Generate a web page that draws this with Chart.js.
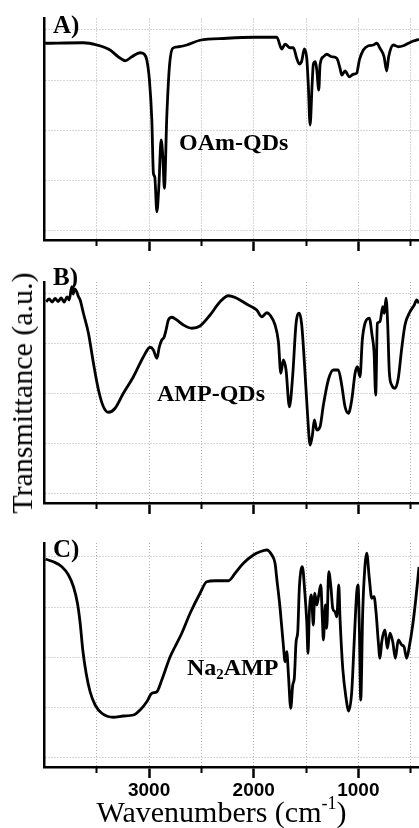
<!DOCTYPE html>
<html>
<head>
<meta charset="utf-8">
<script src="https://cdn.jsdelivr.net/npm/chart.js@4/dist/chart.umd.min.js"></script>
<style>
body { margin: 0; background: #fff; width: 419px; height: 828px; position: relative; overflow: hidden; }
canvas { position: absolute; left: 0; }
.txt { position: absolute; font-family: 'Liberation Serif', 'Times New Roman', serif; color: #000; white-space: nowrap; }
.bold { font-weight: bold; }
</style>
</head>
<body>
<canvas id="panelA" width="419" height="252" style="top:0px"></canvas>
<canvas id="panelB" width="419" height="253" style="top:262px"></canvas>
<canvas id="panelC" width="419" height="305" style="top:523px"></canvas>

<div class="txt bold" style="left:53px;top:12px;font-size:25px;line-height:25px">A)</div>
<div class="txt bold" style="left:53px;top:264px;font-size:25px;line-height:25px">B)</div>
<div class="txt bold" style="left:53px;top:536px;font-size:25px;line-height:25px">C)</div>

<div class="txt bold" style="left:179px;top:130px;font-size:24px;line-height:24px">OAm-QDs</div>
<div class="txt bold" style="left:157px;top:381px;font-size:24px;line-height:24px">AMP-QDs</div>
<div class="txt bold" style="left:187px;top:655px;font-size:24px;line-height:24px">Na<span style="font-size:0.62em;position:relative;top:0.25em">2</span>AMP</div>

<div class="txt" style="left:21.8px;top:393px;font-size:30px;line-height:30px;transform:translate(-50%,-50%) rotate(-90deg)">Transmittance (a.u.)</div>
<div class="txt" style="left:0px;width:443px;text-align:center;top:797px;font-size:30px;line-height:30px">Wavenumbers (cm<span style="font-size:0.6em;position:relative;top:-0.7em">-1</span>)</div>

<script>
// wavenumber axis (cm-1), drawn reversed
var xMax = 4000
var xMin = 420
var majorTicks = [3000, 2000, 1000]
var minorTicks = [3500, 2500, 1500, 500]
var gridLevels = [20, 40, 60, 80, 100]

// A) OAm-QDs
var wnA = [3994,3631,3500,3373,3296,3229,3165,3086,3048,3022,2997,2974,2959,2946,2926,2907,2885,2869,2854,2831,2806,2774,2720,2640,2513,2257,2003,1780,1732,1700,1653,1621,1589,1564,1541,1516,1493,1478,1461,1442,1430,1411,1397,1378,1366,1334,1302,1254,1206,1175,1158,1127,1086,1048,1016,990,952,904,857,824,793,754,729,710,665,618,570,522,474,420]
var tA = [94.7,94.9,94,92,89.3,87.7,89.3,90.9,90.4,88,80,64,42.7,41.3,27.3,37.3,56,49.3,36.7,65.3,85.3,92.7,93.3,94,95.9,96.7,97.1,97.1,92.4,94.3,92.9,92.9,88.7,86.4,87.6,92.4,88.7,78,62,78,86.3,87.3,84,76,86,89.3,90.3,89.3,88.7,84.7,82,83.6,81.3,82.3,82.7,88,92,93.7,94,94.7,92.7,89.3,83.6,89.3,94,93.3,93.7,94.7,95.6,96.3]

// B) AMP-QDs
var wnB = [3984,3956,3927,3898,3870,3841,3812,3784,3764,3739,3726,3712,3691,3678,3659,3628,3580,3532,3484,3437,3389,3325,3246,3150,3054,2990,2959,2926,2902,2879,2857,2838,2816,2783,2735,2672,2592,2513,2417,2322,2242,2162,2066,1971,1923,1875,1844,1796,1764,1741,1717,1691,1659,1627,1595,1564,1541,1516,1487,1461,1439,1420,1397,1366,1334,1287,1239,1191,1159,1127,1095,1063,1031,1009,984,962,936,895,869,850,834,818,793,767,751,735,719,704,681,649,618,585,554,506,465,442,420]
var tB = [96.5,97.6,96.4,97.8,96.6,98,96.4,98.4,97.2,102.5,99.6,101.6,100.4,98.8,97.2,91.9,83.9,71.9,61.2,54.5,52.3,53.9,59.9,66.5,74.5,78.3,77.2,73.9,78.5,81.2,82.3,85.2,89.2,90.3,89.2,87.2,85.9,86.8,91.2,96.5,98.9,97.9,95.5,93.2,90.5,92.1,91.2,87.2,80.5,67.9,73.2,69.2,54.5,67.2,87.9,91.9,87.2,72.5,52.5,39.2,43.2,49.2,45.2,46.5,55.2,65.2,69.2,69.2,63.2,54.5,51.9,57.2,67.9,70.5,66.5,81.2,87.9,89.9,83.2,76.5,59.2,87.9,88.5,94.5,91.9,97.9,87.2,68.5,63.2,61.9,65.9,77.9,87.2,92.5,95.2,97.2,95.9]

// C) Na2AMP
var wnC = [3990,3915,3834,3771,3723,3685,3659,3634,3602,3564,3516,3452,3341,3246,3150,3086,3022,2974,2926,2879,2799,2752,2688,2608,2513,2449,2369,2242,2178,2099,2003,1939,1875,1827,1796,1780,1748,1717,1700,1684,1669,1646,1627,1612,1595,1579,1564,1535,1512,1493,1481,1468,1449,1430,1417,1397,1378,1359,1344,1334,1315,1302,1283,1261,1245,1223,1206,1187,1175,1149,1117,1092,1063,1041,1015,1003,990,977,958,936,920,895,872,850,831,809,793,776,745,723,697,671,646,618,585,563,538,513,480,451,420]
var tC = [99.1,98.1,96.1,92.8,88.1,81.5,73.5,62.8,53.5,46.1,40.8,37.5,35.9,36.4,36.8,38.8,42.1,45.5,46.1,50.8,60.1,64.1,69.5,77.5,85.5,90.1,90.5,90.5,93.5,97.5,100.8,102.1,102.8,100.8,97.5,91.5,79.5,64.8,58.1,62.1,53.5,39.5,48.8,51.5,66.1,70.1,87.5,96.1,86.1,74.1,61.5,78.1,84.8,72.8,85.5,80.8,84.8,88.8,75.5,66.8,80.8,71.5,94.1,87.5,79.5,78.1,76.1,88.8,75.5,55.5,43.5,38.4,46.1,64.8,86.1,88.8,71.5,42.8,78.1,96.8,101.5,91.5,83.5,84.1,78.1,66.1,59.5,66.1,70.8,63.5,69.5,66.1,59.5,66.8,64.8,64.1,59.5,64.1,72.8,83,96]

var yMin = 16
var gridColor = '#b0b0b0'
var gridDash = [1, 2]

function spectrum_chart(canvas, wn, t, yMax, padTop, xAxisH, showLabels)
{
    var pts = wn.map((w, i) => ({x: w, y: t[i]}))

    return new Chart(canvas, {
        type: 'line',
        data: {
            datasets: [{
                data: pts,
                borderColor: '#000',
                borderWidth: 2.8,
                pointRadius: 0,
                fill: false,
                cubicInterpolationMode: 'monotone'
            }]
        },
        options: {
            responsive: false,
            animation: false,
            events: [],
            layout: {padding: {top: padTop, left: 0, right: 0, bottom: 0}},
            plugins: {legend: {display: false}, tooltip: {enabled: false}},
            scales: {
                x: {
                    type: 'linear', position: 'bottom', reverse: true, min: xMin, max: xMax,
                    afterBuildTicks: s => { s.ticks = majorTicks.map(v => ({value: v})) },
                    afterFit: s => { s.height = xAxisH },
                    ticks: {
                        display: showLabels, autoSkip: false, maxRotation: 0, padding: 1, color: '#000',
                        font: {family: "'Liberation Sans', Arial, sans-serif", size: 19, weight: 'bold'},
                        callback: v => String(v)
                    },
                    grid: {color: gridColor, lineWidth: 1, tickColor: '#000', tickWidth: 2.5, tickLength: 11, tickBorderDash: []},
                    border: {display: true, color: '#000', width: 2.5, dash: gridDash}
                },
                x2: {
                    type: 'linear', position: {y: yMin}, reverse: true, min: xMin, max: xMax,
                    afterBuildTicks: s => { s.ticks = minorTicks.map(v => ({value: v})) },
                    ticks: {display: false},
                    grid: {color: gridColor, lineWidth: 1, tickColor: '#000', tickWidth: 2, tickLength: 6, tickBorderDash: []},
                    border: {display: false, dash: gridDash}
                },
                y: {
                    type: 'linear', position: 'left', min: yMin, max: yMax,
                    afterBuildTicks: s => { s.ticks = gridLevels.map(v => ({value: v})) },
                    afterFit: s => { s.width = 44.5 },
                    ticks: {display: false},
                    grid: {color: gridColor, lineWidth: 1, drawTicks: false},
                    border: {display: true, color: '#000', width: 2.5, dash: gridDash}
                }
            }
        }
    });
}

spectrum_chart(document.getElementById('panelA'), wnA, tA, 104.6, 18.5, 12, false)
spectrum_chart(document.getElementById('panelB'), wnB, tB, 104.4, 20, 12, false)
spectrum_chart(document.getElementById('panelC'), wnC, tC, 105.6, 20, 61, true)
</script>
</body>
</html>
